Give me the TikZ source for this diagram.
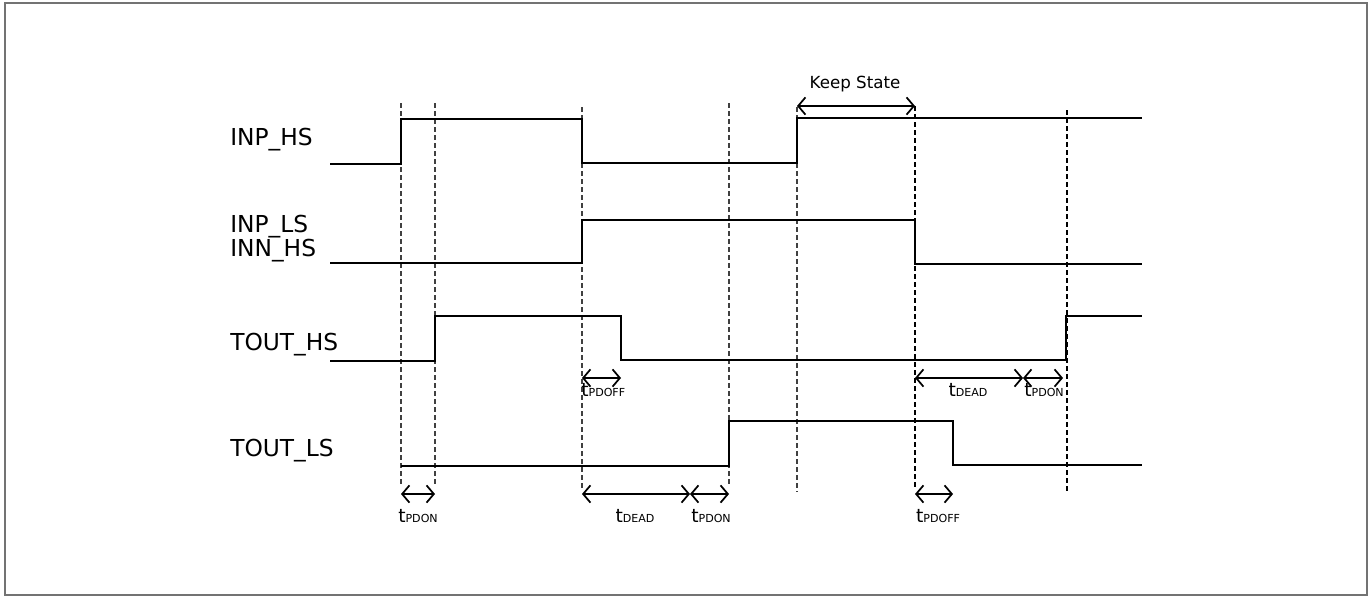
\documentclass[tikz,border=0pt]{standalone}
\usepackage{fontspec}
\setmainfont{DejaVu Sans}
\usetikzlibrary{arrows.meta}
\newcommand{\tsub}[1]{{\fontsize{14}{14}\selectfont t}{\fontsize{8.3}{9}\selectfont #1}}
\tikzset{
  sig/.style={line width=1.5pt, line join=miter},
  guide/.style={line width=0.8pt, draw=black!75, dash pattern=on 3.6pt off 2.4pt},
  meas/.style={line width=1.3pt, {Straight Barb[length=5.5pt,width=13pt]}-{Straight Barb[length=5.5pt,width=13pt]}},
  siglabel/.style={anchor=base west, inner sep=0pt, font=\fontsize{17.5}{20}\selectfont},
  tlabel/.style={anchor=base, inner sep=0pt},
}
\begin{document}
\begin{tikzpicture}[x=0.75pt,y=-0.75pt]
\useasboundingbox (0,0) rectangle (1370,597);
\draw[line width=1.5pt, draw=black!55] (5,3) rectangle (1367,595);

% guide lines
\draw[guide] (401,103) -- (401,484);
\draw[guide] (435,103) -- (435,484);
\draw[guide] (582,107) -- (582,488);
\draw[guide] (729,103) -- (729,484);
\draw[guide] (797,107) -- (797,492);
\draw[guide, draw=black] (915,106) -- (915,488);
\draw[guide, draw=black] (1067,110) -- (1067,492);

% signals
\draw[sig] (330,164) -- (401,164) -- (401,119) -- (582,119) -- (582,163) -- (797,163) -- (797,118) -- (1142,118);
\draw[sig] (330,263) -- (582,263) -- (582,220) -- (915,220) -- (915,264) -- (1142,264);
\draw[sig] (330,361) -- (435,361) -- (435,316) -- (621,316) -- (621,360) -- (1066,360) -- (1066,316) -- (1142,316);
\draw[sig] (401,466) -- (729,466) -- (729,421) -- (953,421) -- (953,465) -- (1142,465);

% signal labels
\node[siglabel] (l1) at (230,145) {INP\_HS};
\node[siglabel] (l2) at (230,232) {INP\_LS};
\node[siglabel] (l3) at (230,256) {INN\_HS};
\node[siglabel] (l4) at (230,350) {TOUT\_HS};
\node[siglabel] (l5) at (230,456) {TOUT\_LS};

% measurement points
\coordinate (a1) at (401,494); \coordinate (a2) at (435,494);
\coordinate (b1) at (582,494); \coordinate (b2) at (690,494); \coordinate (b3) at (729,494);
\coordinate (c1) at (915,494); \coordinate (c2) at (953,494);
\coordinate (d1) at (582,378); \coordinate (d2) at (621,378);
\coordinate (e1) at (915,378); \coordinate (e2) at (1023,378); \coordinate (e3) at (1063,378);
\coordinate (k1) at (797,106); \coordinate (k2) at (915,106);

\draw[meas] (a1) -- (a2);
\draw[meas] (b1) -- (b2);
\draw[meas] (b2) -- (b3);
\draw[meas] (c1) -- (c2);
\draw[meas] (d1) -- (d2);
\draw[meas] (e1) -- (e2);
\draw[meas] (e2) -- (e3);
\draw[meas] (k1) -- (k2);

\node[tlabel] (t1) at (418,522) {\tsub{PDON}};
\node[tlabel] (t2) at (635,522) {\tsub{DEAD}};
\node[tlabel] (t3) at (711,522) {\tsub{PDON}};
\node[tlabel] (t4) at (938,522) {\tsub{PDOFF}};
\node[tlabel, anchor=base west] (t5) at (581,396) {\tsub{PDOFF}};
\node[tlabel] (t6) at (968,396) {\tsub{DEAD}};
\node[tlabel] (t7) at (1044,396) {\tsub{PDON}};
\node[tlabel, font=\fontsize{12.5}{14}\selectfont] (ks) at (855,88) {Keep State};
\end{tikzpicture}
\end{document}
